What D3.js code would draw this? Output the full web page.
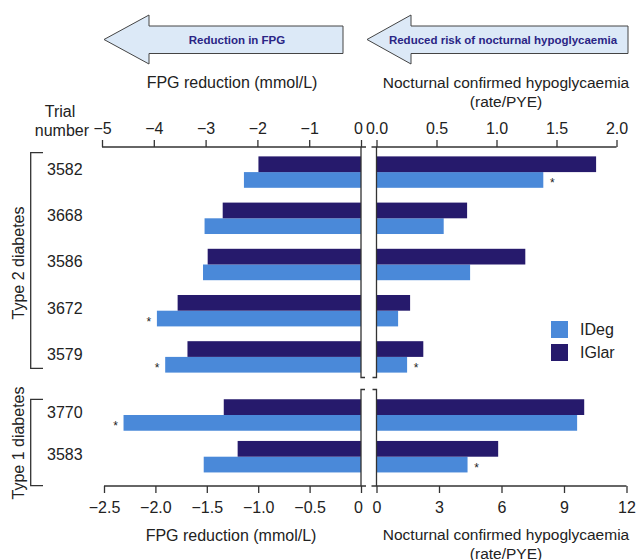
<!DOCTYPE html>
<html>
<head>
<meta charset="utf-8">
<script src="https://cdn.jsdelivr.net/npm/d3@7"></script>
<style>
  body { margin: 0; background: #fff; }
  text { font-family: "Liberation Sans", Arial, sans-serif; fill: #222; }
</style>
</head>
<body>
<svg id="chart" width="638" height="560"></svg>
<script>
// trial numbers per panel
const type2Trials = ['3582', '3668', '3586', '3672', '3579'];
const type1Trials = ['3770', '3583'];

// FPG reduction (mmol/L)
const fpgIDegT2 = [-2.26, -3.02, -3.05, -3.94, -3.78];
const fpgIGlarT2 = [-1.98, -2.67, -2.96, -3.54, -3.35];
const fpgIDegT1 = [-2.31, -1.53];
const fpgIGlarT1 = [-1.335, -1.20];

// nocturnal confirmed hypoglycaemia (rate/PYE)
const hypoIDegT2 = [1.39, 0.56, 0.78, 0.18, 0.255];
const hypoIGlarT2 = [1.83, 0.755, 1.24, 0.28, 0.39];
const hypoIDegT1 = [9.63, 4.37];
const hypoIGlarT1 = [9.97, 5.84];

// trials with a significant IDeg difference
const fpgStarred = ['3672', '3579', '3770'];
const hypoStarred = ['3582', '3579', '3583'];

const fpgTicksT2 = [-5, -4, -3, -2, -1, 0];
const hypoTicksT2 = [0, 0.5, 1, 1.5, 2];
const fpgTicksT1 = [-2.5, -2, -1.5, -1, -0.5, 0];
const hypoTicksT1 = [0, 3, 6, 9, 12];

const seriesNames = ['IDeg', 'IGlar'];
const colors = { IDeg: '#4a89d9', IGlar: '#261a6c' };
const axisColor = '#333';

const svg = d3.select('#chart');

// scales
const xFpgT2 = d3.scaleLinear().domain([-5, 0]).range([102, 361]);
const xFpgT1 = d3.scaleLinear().domain([-2.5, 0]).range([104, 361]);
const xHypoT2 = d3.scaleLinear().domain([0, 2]).range([376.5, 616.5]);
const xHypoT1 = d3.scaleLinear().domain([0, 12]).range([376.5, 626.5]);

const yT2 = d3.scaleBand().domain(type2Trials).range([149, 380])
    .paddingInner(0.32).paddingOuter(0.16);
const yT1 = d3.scaleBand().domain(type1Trials).range([393, 478.7])
    .paddingInner(0.245).paddingOuter(0.15);

const rowsT2 = type2Trials.map((t, i) => ({
    trial: t,
    fpg: { IDeg: fpgIDegT2[i], IGlar: fpgIGlarT2[i] },
    hypo: { IDeg: hypoIDegT2[i], IGlar: hypoIGlarT2[i] }
}));
const rowsT1 = type1Trials.map((t, i) => ({
    trial: t,
    fpg: { IDeg: fpgIDegT1[i], IGlar: fpgIGlarT1[i] },
    hypo: { IDeg: hypoIDegT1[i], IGlar: hypoIGlarT1[i] }
}));

function drawPanel(rows, y, xL, xR) {
    const inner = d3.scaleBand().domain(['IGlar', 'IDeg']).range([0, y.bandwidth()]);
    const g = svg.append('g');

    const row = g.selectAll('g.row').data(rows).join('g')
        .attr('class', 'row')
        .attr('transform', d => `translate(0,${y(d.trial)})`);

    row.selectAll('rect.fpg').data(d => seriesNames.map(s => ({ s, v: d.fpg[s] })))
        .join('rect')
        .attr('class', 'fpg')
        .attr('x', d => xL(d.v))
        .attr('y', d => inner(d.s))
        .attr('width', d => xL(0) - xL(d.v))
        .attr('height', inner.bandwidth())
        .attr('fill', d => colors[d.s]);

    row.selectAll('rect.hypo').data(d => seriesNames.map(s => ({ s, v: d.hypo[s] })))
        .join('rect')
        .attr('class', 'hypo')
        .attr('x', xR(0))
        .attr('y', d => inner(d.s))
        .attr('width', d => xR(d.v) - xR(0))
        .attr('height', inner.bandwidth())
        .attr('fill', d => colors[d.s]);

    // asterisks next to IDeg bars
    const starY = inner('IDeg') + inner.bandwidth() / 2 + 7;
    row.filter(d => fpgStarred.includes(d.trial)).append('text')
        .attr('x', d => xL(d.fpg.IDeg) - 8)
        .attr('y', starY)
        .attr('text-anchor', 'middle')
        .attr('font-size', 12)
        .text('*');
    row.filter(d => hypoStarred.includes(d.trial)).append('text')
        .attr('x', d => xR(d.hypo.IDeg) + 9)
        .attr('y', starY)
        .attr('text-anchor', 'middle')
        .attr('font-size', 12)
        .text('*');

    // trial numbers
    row.append('text')
        .attr('x', 47)
        .attr('y', y.bandwidth() / 2 + 3)
        .attr('font-size', 16)
        .text(d => d.trial);
}

drawPanel(rowsT2, yT2, xFpgT2, xHypoT2);
drawPanel(rowsT1, yT1, xFpgT1, xHypoT1);

// axes
const topY = 147, botY = 486;
const oneDec = d3.format('.1f');
const plain = d3.format('');

function styleAxis(g) {
    g.select('.domain').remove();
    g.selectAll('line').attr('stroke', axisColor).attr('stroke-width', 1.3);
    g.selectAll('text').attr('font-size', 16).attr('font-family', '"Liberation Sans", Arial, sans-serif').attr('fill', '#222');
}
// nudge the left-hand zero label away from the break
function shiftZero(g) {
    g.selectAll('.tick').filter(d => d === 0).select('text').attr('dx', -3);
}

svg.append('g').attr('transform', `translate(0,${topY})`)
    .call(d3.axisTop(xFpgT2).tickValues(fpgTicksT2).tickFormat(plain)
        .tickSize(7).tickSizeOuter(0).tickPadding(6))
    .call(styleAxis).call(shiftZero);
svg.append('g').attr('transform', `translate(0,${topY})`)
    .call(d3.axisTop(xHypoT2).tickValues(hypoTicksT2).tickFormat(oneDec)
        .tickSize(7).tickSizeOuter(0).tickPadding(6))
    .call(styleAxis);
svg.append('g').attr('transform', `translate(0,${botY})`)
    .call(d3.axisBottom(xFpgT1).tickValues(fpgTicksT1)
        .tickFormat(d => d === 0 ? '0' : oneDec(d)).tickSize(7).tickSizeOuter(0).tickPadding(9))
    .call(styleAxis).call(shiftZero);
svg.append('g').attr('transform', `translate(0,${botY})`)
    .call(d3.axisBottom(xHypoT1).tickValues(hypoTicksT1).tickFormat(plain)
        .tickSize(7).tickSizeOuter(0).tickPadding(9))
    .call(styleAxis);

// axis frame lines with break marks
const frame = svg.append('g').attr('fill', 'none').attr('stroke', axisColor).attr('stroke-width', 1.3);
const lx = xFpgT2(0), rx = xHypoT2(0);
const breakTop = 377.5, breakBot = 389.5;
frame.append('path').attr('d', `M${xFpgT2(-5)},${topY}H${lx + 5}`);
frame.append('path').attr('d', `M${rx - 5},${topY}H${xHypoT2(2)}`);
frame.append('path').attr('d', `M${xFpgT1(-2.5)},${botY}H${lx + 5}`);
frame.append('path').attr('d', `M${rx - 5},${botY}H${xHypoT1(12)}`);
frame.append('path').attr('d', `M${lx},${topY}V${breakTop}H${lx + 4}`);
frame.append('path').attr('d', `M${rx},${topY}V${breakTop}H${rx - 4}`);
frame.append('path').attr('d', `M${lx + 4},${breakBot}H${lx}V${botY}`);
frame.append('path').attr('d', `M${rx - 4},${breakBot}H${rx}V${botY}`);

// diabetes type brackets
frame.append('path').attr('d', `M43,152.7H30.7V368.3H43`);
frame.append('path').attr('d', `M43,399.3H30.7V485.7H43`);

svg.append('text').attr('transform', 'translate(23.5,263) rotate(-90)')
    .attr('text-anchor', 'middle').attr('font-size', 16).text('Type 2 diabetes');
svg.append('text').attr('transform', 'translate(23.5,443) rotate(-90)')
    .attr('text-anchor', 'middle').attr('font-size', 16).text('Type 1 diabetes');

// trial number header
svg.append('text').attr('x', 60).attr('y', 117).attr('text-anchor', 'middle')
    .attr('font-size', 16).text('Trial');
svg.append('text').attr('x', 89).attr('y', 136).attr('text-anchor', 'end')
    .attr('font-size', 16).text('number');

// axis titles
function title(x, y, lines, size) {
    const t = svg.append('text').attr('x', x).attr('y', y)
        .attr('text-anchor', 'middle').attr('font-size', size);
    lines.forEach((l, i) => t.append('tspan').attr('x', x).attr('dy', i ? 19 : 0).text(l));
}
title(232, 88, ['FPG reduction (mmol/L)'], 16);
title(506, 88, ['Nocturnal confirmed hypoglycaemia', '(rate/PYE)'], 15.5);
title(231, 541, ['FPG reduction (mmol/L)'], 16);
title(506, 540, ['Nocturnal confirmed hypoglycaemia', '(rate/PYE)'], 15.5);

// direction arrows
function arrow(tip, back, right, label, cx) {
    const cy = 39.5;
    const pts = [[tip, cy], [back, 15], [back, 26], [right, 26], [right, 53.5],
                 [back, 53.5], [back, 64], [tip, cy]];
    svg.append('path')
        .attr('d', d3.line()(pts) + 'Z')
        .attr('fill', '#dce9f7')
        .attr('stroke', '#444')
        .attr('stroke-width', 1);
    svg.append('text').attr('x', cx).attr('y', cy + 4)
        .attr('text-anchor', 'middle')
        .attr('font-size', 11.5)
        .attr('font-weight', 'bold')
        .style('fill', '#2a2585')
        .text(label);
}
arrow(104, 149, 343, 'Reduction in FPG', 237);
arrow(367, 411, 628, 'Reduced risk of nocturnal hypoglycaemia', 503);

// legend
const legend = svg.append('g').attr('transform', 'translate(551,321)');
seriesNames.forEach((s, i) => {
    legend.append('rect').attr('x', 0).attr('y', i * 23)
        .attr('width', 17).attr('height', 17).attr('fill', colors[s]);
    legend.append('text').attr('x', 29).attr('y', i * 23 + 14)
        .attr('font-size', 16).text(s);
});
</script>
</body>
</html>
